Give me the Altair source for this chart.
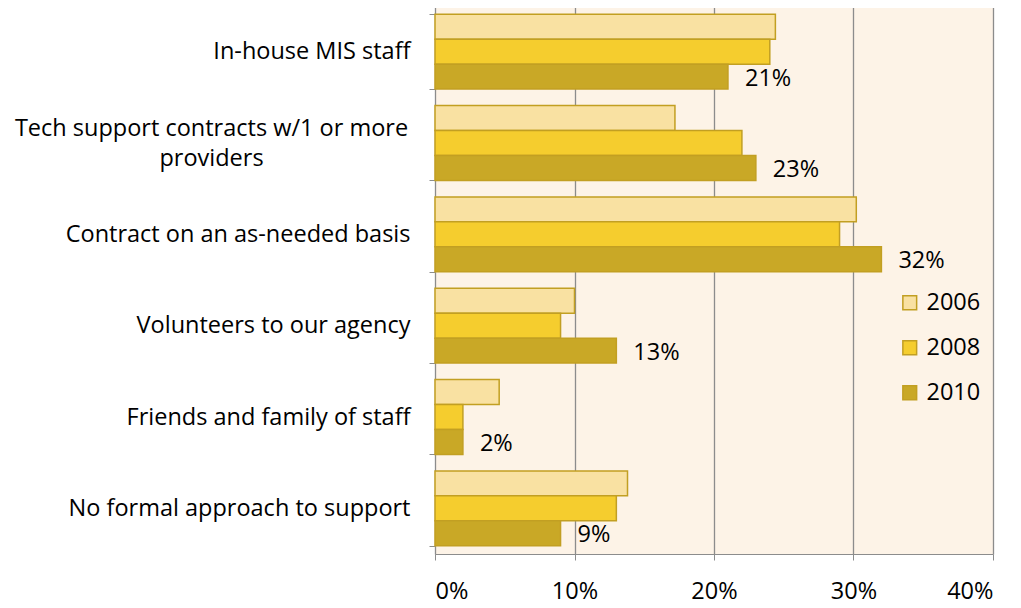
import altair as alt
import pandas as pd

categories = [
    "In-house MIS staff",
    "Tech support contracts w/1 or more providers",
    "Contract on an as-needed basis",
    "Volunteers to our agency",
    "Friends and family of staff",
    "No formal approach to support",
]
years = ["2006", "2008", "2010"]
v2006 = [24.4, 17.2, 30.2, 10.0, 4.6, 13.8]
v2008 = [24.0, 22.0, 29.0, 9.0, 2.0, 13.0]
v2010 = [21.0, 23.0, 32.0, 13.0, 2.0, 9.0]
labels2010 = ["21%", "23%", "32%", "13%", "2%", "9%"]
x_ticks = [0, 10, 20, 30, 40]

rows = []
for i, c in enumerate(categories):
    for y, vals in zip(years, [v2006, v2008, v2010]):
        rows.append({"cat": c, "year": y, "value": vals[i] / 100.0,
                     "label": labels2010[i] if y == "2010" else ""})
df = pd.DataFrame(rows)

FONT = "Open Sans"
FS = 23.5
colors = ["#F9E1A2", "#F5CD2E", "#C9A826"]

wrapped = "Tech support contracts w/1 or more providers"
label_expr = ("datum.value == '" + wrapped + "' ? "
              "['Tech support contracts w/1 or more', 'providers'] : datum.value")
is_wrapped = "datum.value == '" + wrapped + "'"

y_enc = alt.Y("cat:N", sort=categories, title=None,
              scale=alt.Scale(paddingInner=0.18, paddingOuter=0.09),
              axis=alt.Axis(labelExpr=label_expr, labelFontSize=FS, labelFont=FONT,
                            labelColor="#000000",
                            labelAlign={"condition": {"test": is_wrapped, "value": "center"},
                                        "value": "right"},
                            labelPadding={"condition": {"test": is_wrapped, "value": 218},
                                          "value": 19},
                            labelOffset={"condition": {"test": is_wrapped, "value": -15},
                                         "value": 0},
                            labelLimit=500,
                            tickBand="extent", tickSize=6, tickColor="#8c8c8c",
                            domainColor="#8c8c8c", labelLineHeight=30))
yo_enc = alt.YOffset("year:N", sort=years, scale=alt.Scale(paddingInner=0, paddingOuter=0))

x_enc = alt.X("value:Q", title=None,
              scale=alt.Scale(domain=[0, 0.4], nice=False),
              axis=alt.Axis(values=[t / 100 for t in x_ticks], format=".0%",
                            labelFontSize=FS, labelFont=FONT, labelColor="#000000",
                            labelPadding=19, tickSize=6, tickColor="#8c8c8c",
                            domainColor="#8c8c8c", grid=True, gridColor="#8c8c8c",
                            gridOpacity=1, gridWidth=1.3))

bars = alt.Chart(df).mark_bar(stroke="#C29F22", strokeWidth=1.5).encode(
    y=y_enc, yOffset=yo_enc, x=x_enc,
    color=alt.Color("year:N", sort=years, title=None,
                    scale=alt.Scale(domain=years, range=colors),
                    legend=alt.Legend(orient="none", legendX=463, legendY=285,
                                      symbolType="square", symbolSize=190,
                                      symbolStrokeColor="#C29F22", symbolStrokeWidth=1.5,
                                      labelFontSize=FS, labelFont=FONT, labelColor="#000000",
                                      rowPadding=20, labelOffset=5)),
)

text = alt.Chart(df).transform_filter(alt.datum.year == "2010").mark_text(
    align="left", baseline="middle", dx=17, dy=2, fontSize=FS, font=FONT, color="#000000"
).encode(
    y=alt.Y("cat:N", sort=categories), yOffset=yo_enc, x="value:Q", text="label:N"
)

chart = alt.layer(bars, text).properties(
    width=558, height=548,
    autosize=alt.AutoSizeParams(type="none"),
    padding={"left": 427, "top": -2, "right": 20, "bottom": 50},
).configure_view(fill="#FDF3E7", stroke=None)

chart.save("out.html", embed_options={"renderer": "svg", "actions": False})
